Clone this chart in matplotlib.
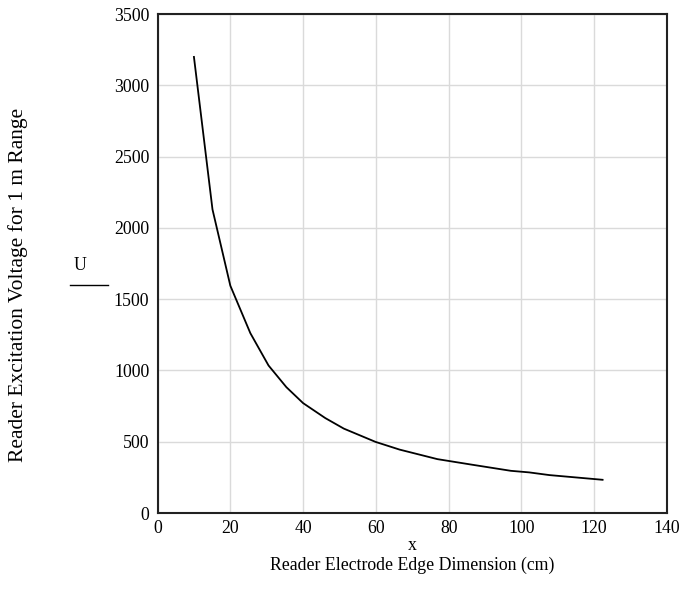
import matplotlib

matplotlib.use("Agg")
import matplotlib.pyplot as plt
from matplotlib.lines import Line2D

# values
x_cm = [10.0, 15.1, 20.0, 25.5, 30.5, 35.4, 40.0, 46.1, 51.2, 59.9,
        66.5, 76.9, 86.4, 97.1, 102.1, 107.7, 122.3]
u_volts = [3200, 2130, 1595, 1262, 1035, 883, 771, 666, 592, 499,
           445, 378, 339, 296, 285, 266, 233]

x_ticks = [0, 20, 40, 60, 80, 100, 120, 140]
y_ticks = [0, 500, 1000, 1500, 2000, 2500, 3000, 3500]

plt.rcParams["font.family"] = ["Liberation Serif", "DejaVu Serif"]
FS = 12.8

fig = plt.figure(figsize=(6.82, 5.90), dpi=100)
ax = fig.add_axes([0.231, 0.1305, 0.747, 0.8455])

ax.plot(x_cm, u_volts, color="black", linewidth=1.3)

ax.set_xlim(0, 140)
ax.set_ylim(0, 3500)
ax.set_xticks(x_ticks)
ax.set_yticks(y_ticks)
ax.tick_params(length=0, labelsize=FS, pad=6)
ax.tick_params(axis="x", pad=5)
ax.grid(color="#dadada", linewidth=1.0)
ax.set_axisbelow(True)
for s in ax.spines.values():
    s.set_linewidth(1.5)
    s.set_color("#222222")

# axis titles, Mathcad style
fig.text(0.604, 0.076, "x", ha="center", va="center", fontsize=FS)
fig.text(0.604, 0.042, "Reader Electrode Edge Dimension (cm)",
         ha="center", va="center", fontsize=FS)
fig.text(0.026, 0.517, "Reader Excitation Voltage for 1 m Range",
         ha="center", va="center", rotation=90, fontsize=15.5)
fig.text(0.118, 0.550, "U", ha="center", va="center", fontsize=FS)
fig.add_artist(Line2D([0.103, 0.159], [0.517, 0.517], color="black",
                      linewidth=1.0, transform=fig.transFigure))

fig.savefig("out.png", dpi=100)
